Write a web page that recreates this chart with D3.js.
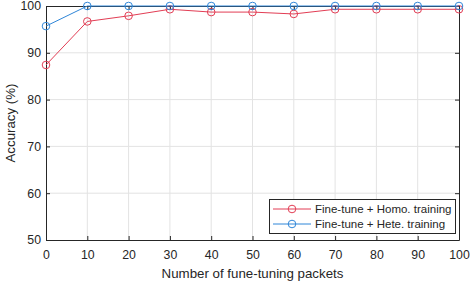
<!DOCTYPE html>
<html>
<head>
<meta charset="utf-8">
<script src="https://cdn.jsdelivr.net/npm/d3@7"></script>
<style>
  body { margin: 0; background: #fff; }
  svg { font-family: "Liberation Sans", Arial, sans-serif; }
</style>
</head>
<body>
<svg id="chart" width="471" height="285"></svg>
<script>
// data
const packets = [0, 10, 20, 30, 40, 50, 60, 70, 80, 90, 100];
const homoAcc = [87.4, 96.7, 97.9, 99.3, 98.7, 98.7, 98.3, 99.3, 99.3, 99.3, 99.3];
const heteAcc = [95.7, 100, 100, 100, 100, 100, 100, 100, 100, 100, 100];
const xTicks = [0, 10, 20, 30, 40, 50, 60, 70, 80, 90, 100];
const yTicks = [50, 60, 70, 80, 90, 100];
const seriesNames = ["Fine-tune + Homo. training", "Fine-tune + Hete. training"];
const seriesColors = ["#e23d54", "#2f86d8"];

const svg = d3.select("#chart");
const plotL = 46, plotR = 459, plotT = 6, plotB = 240;
const axisColor = "#262626";

const x = d3.scaleLinear().domain([0, 100]).range([plotL, plotR]);
const y = d3.scaleLinear().domain([50, 100]).range([plotB, plotT]);

// grid
const grid = svg.append("g").attr("stroke", "#e3e3e3").attr("stroke-width", 1);
grid.selectAll("line.gx").data(xTicks.slice(1, -1)).enter().append("line")
  .attr("x1", d => x(d)).attr("x2", d => x(d))
  .attr("y1", plotT).attr("y2", plotB);
grid.selectAll("line.gy").data(yTicks.slice(1, -1)).enter().append("line")
  .attr("x1", plotL).attr("x2", plotR)
  .attr("y1", d => y(d)).attr("y2", d => y(d));

// axes (box on, ticks inward)
function styleAxis(g) {
  g.select(".domain").attr("stroke", axisColor);
  g.selectAll(".tick line").attr("stroke", axisColor);
  g.selectAll(".tick text").attr("fill", axisColor).attr("font-size", 12.3);
}
svg.append("g").attr("transform", `translate(0,${plotB})`)
  .call(d3.axisBottom(x).tickValues(xTicks).tickSizeInner(-4).tickSizeOuter(0).tickPadding(10))
  .call(styleAxis);
svg.append("g").attr("transform", `translate(${plotL},0)`)
  .call(d3.axisLeft(y).tickValues(yTicks).tickSizeInner(-4).tickSizeOuter(0).tickPadding(5))
  .call(styleAxis);
svg.append("g").attr("transform", `translate(0,${plotT})`)
  .call(d3.axisTop(x).tickValues(xTicks).tickSizeInner(-4).tickSizeOuter(0).tickFormat(""))
  .call(styleAxis);
svg.append("g").attr("transform", `translate(${plotR},0)`)
  .call(d3.axisRight(y).tickValues(yTicks).tickSizeInner(-4).tickSizeOuter(0).tickFormat(""))
  .call(styleAxis);

// series
const series = [homoAcc, heteAcc];
const line = d3.line().x((d, i) => x(packets[i])).y(d => y(d));
series.forEach((vals, s) => {
  const g = svg.append("g");
  g.append("path").datum(vals)
    .attr("d", line).attr("fill", "none")
    .attr("stroke", seriesColors[s]).attr("stroke-width", 1);
  g.selectAll("circle").data(vals).enter().append("circle")
    .attr("cx", (d, i) => x(packets[i])).attr("cy", d => y(d))
    .attr("r", 3.8).attr("fill", "none")
    .attr("stroke", seriesColors[s]).attr("stroke-width", 1);
});

// labels
svg.append("text")
  .attr("x", (plotL + plotR) / 2).attr("y", 277.5)
  .attr("text-anchor", "middle").attr("font-size", 13.3).attr("fill", axisColor)
  .text("Number of fune-tuning packets");
svg.append("text")
  .attr("transform", `translate(14.5,${(plotT + plotB) / 2}) rotate(-90)`)
  .attr("text-anchor", "middle").attr("font-size", 13.3).attr("fill", axisColor)
  .text("Accuracy (%)");

// legend
const lg = svg.append("g");
lg.append("rect").attr("x", 269.5).attr("y", 199.5).attr("width", 186).attr("height", 34)
  .attr("fill", "#fff").attr("stroke", axisColor).attr("stroke-width", 1);
seriesNames.forEach((name, i) => {
  const ly = 209 + i * 15;
  lg.append("line").attr("x1", 273).attr("x2", 311).attr("y1", ly).attr("y2", ly)
    .attr("stroke", seriesColors[i]).attr("stroke-width", 1);
  lg.append("circle").attr("cx", 292).attr("cy", ly).attr("r", 3.8)
    .attr("fill", "none").attr("stroke", seriesColors[i]);
  lg.append("text").attr("x", 315).attr("y", ly + 4)
    .attr("font-size", 11.5).attr("fill", axisColor).text(name);
});
</script>
</body>
</html>
